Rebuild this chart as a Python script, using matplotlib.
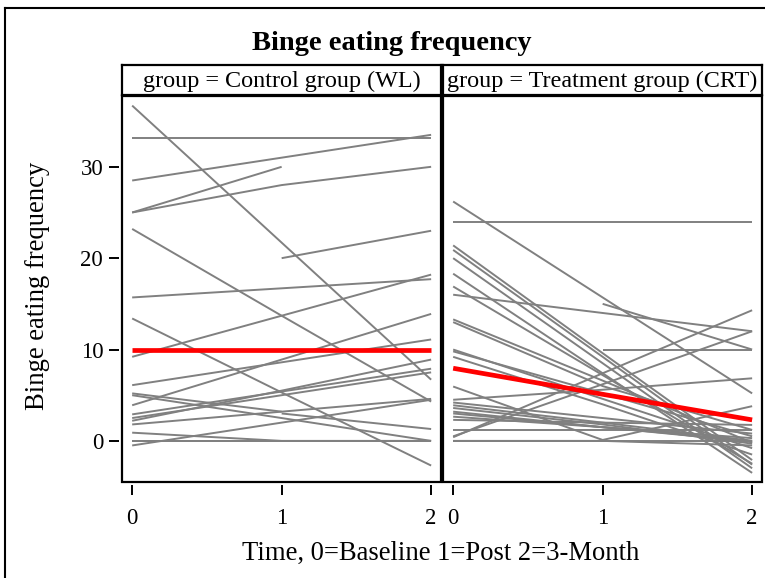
#!/usr/bin/env python3
"""
spaghetti plot - binge eating frequency per subject, two groups
"""

import numpy as np
import matplotlib
matplotlib.use('Agg')
import matplotlib.pyplot as plt
from matplotlib.lines import Line2D
from matplotlib.patches import Rectangle

nan = np.nan

# DATA
time_points = [0, 1, 2]
time_ticks = [0, 1, 2]
freq_ticks = [0, 10, 20, 30]
group_labels = ['group = Control group (WL)', 'group = Treatment group (CRT)']

# one row per subject: baseline, post, 3-month (nan = missing)
control_subjects = [
	[36.7, 21.7, 6.7],
	[33.1, 33.1, 33.1],
	[28.5, 31.0, 33.5],
	[25.0, 30.0, nan],
	[25.0, 28.0, 30.0],
	[nan, 20.0, 23.0],
	[23.2, 13.7, 4.3],
	[15.7, 16.7, 17.7],
	[9.2, 13.7, 18.2],
	[13.4, 5.3, -2.7],
	[3.9, 8.9, 13.9],
	[6.1, 8.6, 11.1],
	[5.2, 3.2, nan],
	[5.0, 2.5, 0.0],
	[2.9, 5.4, 7.9],
	[2.5, 5.0, 7.5],
	[2.2, 5.5, 8.9],
	[1.8, 3.2, 4.6],
	[nan, 3.0, 1.3],
	[0.9, 0.0, 0.0],
	[-0.5, 2.0, 4.5],
	[0.0, 0.0, 0.0],
	[0.0, 0.0, 0.0],
]

treatment_subjects = [
	[26.2, 15.7, 5.2],
	[24.0, 24.0, 24.0],
	[nan, 15.0, 10.0],
	[16.0, 14.0, 12.0],
	[21.4, 9.6, -2.1],
	[20.9, 9.2, -2.6],
	[20.0, 8.5, -3.0],
	[18.3, 7.4, -3.5],
	[16.9, 7.2, -2.5],
	[13.3, 6.6, -0.2],
	[13.0, 6.0, 1.2],
	[10.0, 4.6, -0.8],
	[9.8, 5.2, 0.5],
	[9.2, 4.0, -1.5],
	[5.95, 0.1, 3.8],
	[0.4, 7.4, 14.3],
	[0.5, 6.2, 12.0],
	[4.5, 5.6, 6.85],
	[nan, 10.0, 10.0],
	[3.9, 2.0, 0.0],
	[3.6, 1.8, -0.3],
	[3.2, 1.5, -0.1],
	[2.65, 1.5, 0.3],
	[2.3, 2.0, 1.75],
	[1.2, 1.2, 1.2],
	[0.0, 0.0, 0.0],
	[0.0, 0.0, -0.5],
	[4.2, 2.5, 0.8],
	[3.0, 1.5, 0.0],
]

control_mean = [10.0, 10.0, 10.0]
treatment_mean = [7.95, 5.1, 2.3]

plt.rcParams['font.family'] = ['Liberation Serif', 'DejaVu Serif']

W, H = 765, 578
fig = plt.figure(figsize=(W/100, H/100), dpi=100)

# outer frame (left + top edge only)
fig.add_artist(Line2D([5/W, 5/W], [0, 1-8/H], color='black', lw=1.5))
fig.add_artist(Line2D([5/W, 1], [1-8/H, 1-8/H], color='black', lw=1.5))

fig.text(392/W, 1-43/H, 'Binge eating frequency', ha='center', va='center',
	fontsize=20.5, fontweight='bold')

panels = [
	(122, control_subjects, control_mean, group_labels[0]),
	(443, treatment_subjects, treatment_mean, group_labels[1]),
]

for i, (x0, subjects, mean_vals, label) in enumerate(panels):
	ax = fig.add_axes([x0/W, 1-482/H, 319/W, 386/H])
	for row in subjects:
		ax.plot(time_points, row, color='#808080', lw=1.4, solid_capstyle='butt')
	ax.plot(time_points, mean_vals, color='#ff0000', lw=3.4, solid_capstyle='butt')

	ax.set_xlim(-0.068, 2.066)
	ax.set_ylim(-4.5, 37.75)

	# frame drawn as a box, spines only carry ticks
	for s in ax.spines.values():
		s.set_visible(False)
	ax.add_patch(Rectangle((0, 0), 1, 1, transform=ax.transAxes, fill=False,
		edgecolor='black', lw=1.6, clip_on=False, zorder=5))
	ax.spines['bottom'].set_position(('outward', 2.5))
	ax.spines['left'].set_position(('outward', 2.5))

	ax.set_xticks(time_ticks)
	ax.tick_params(axis='x', direction='out', length=7, width=1.4, labelsize=16.5, pad=9)
	if i == 0:
		ax.set_yticks(freq_ticks)
		ax.tick_params(axis='y', direction='out', length=7, width=1.4, labelsize=16.5, pad=4)
	else:
		ax.set_yticks([])

	# strip header
	sx = fig.add_axes([x0/W, 1-95/H, 319/W, 30/H])
	sx.set_xticks([])
	sx.set_yticks([])
	for s in sx.spines.values():
		s.set_linewidth(1.6)
	sx.text(0.5, 0.45, label, ha='center', va='center', fontsize=17.4,
		transform=sx.transAxes)

fig.text(38/W, 1-286/H, 'Binge eating frequency', rotation=90, ha='center',
	va='center', fontsize=19.2)
fig.text(441/W, 1-553/H, 'Time, 0=Baseline 1=Post 2=3-Month', ha='center',
	va='center', fontsize=19.2)

fig.savefig('out.png', dpi=100)
print('EOF')
